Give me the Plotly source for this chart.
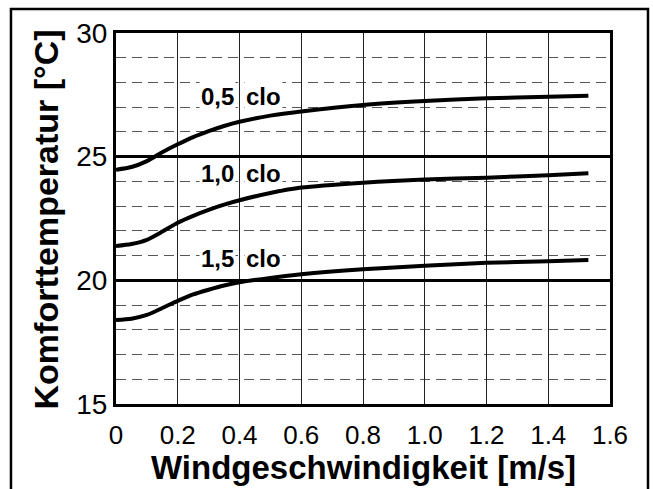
import plotly.graph_objects as go

# Wind speed [m/s] and comfort temperature [°C] for three clothing levels
wind = [0, 0.05, 0.1, 0.15, 0.2, 0.25, 0.3, 0.35, 0.4, 0.5, 0.6, 0.8, 1.0, 1.2, 1.4, 1.53]
t_05clo = [24.47, 24.58, 24.82, 25.18, 25.50, 25.79, 26.03, 26.24, 26.41, 26.66, 26.83, 27.09, 27.25, 27.36, 27.42, 27.46]
t_10clo = [21.39, 21.47, 21.64, 21.97, 22.33, 22.61, 22.85, 23.06, 23.24, 23.53, 23.75, 23.95, 24.08, 24.15, 24.25, 24.33]
t_15clo = [18.40, 18.45, 18.60, 18.88, 19.17, 19.43, 19.62, 19.79, 19.92, 20.10, 20.25, 20.45, 20.59, 20.71, 20.77, 20.82]

series_names = ["0,5 clo", "1,0 clo", "1,5 clo"]
series_values = [t_05clo, t_10clo, t_15clo]

x_tickvals = [0, 0.2, 0.4, 0.6, 0.8, 1.0, 1.2, 1.4, 1.6]
x_ticktext = ["0", "0.2", "0.4", "0.6", "0.8", "1.0", "1.2", "1.4", "1.6"]
y_tickvals = [15, 20, 25, 30]

FONT = "Liberation Sans, Arial, sans-serif"

fig = go.Figure()
for name, vals in zip(series_names, series_values):
    fig.add_trace(go.Scatter(
        x=wind, y=vals, mode="lines", name=name,
        line=dict(color="black", width=4, shape="spline", smoothing=0.7),
        hoverinfo="skip",
    ))

# Curve labels, split around the 0.4 grid line, on a white backing
label_pos = {"0,5 clo": 27.42, "1,0 clo": 24.33, "1,5 clo": 20.9}
for name in series_names:
    num, unit = name.split(" ")
    for txt, anchor, shift in ((num, "right", -4), (unit, "left", 4)):
        fig.add_annotation(
            x=0.4, y=label_pos[name], xref="x", yref="y",
            text=f"<b>{txt}</b>", showarrow=False,
            xanchor=anchor, yanchor="middle", xshift=shift,
            bgcolor="white", borderpad=1,
            font=dict(family=FONT, size=24, color="black"),
        )

# Axis titles
fig.add_annotation(
    x=-0.142, y=0.497, xref="paper", yref="paper",
    text="<b>Komforttemperatur [°C]</b>", textangle=-90, showarrow=False,
    xanchor="center", yanchor="middle",
    font=dict(family=FONT, size=34, color="black"),
)
fig.add_annotation(
    x=0.501, y=-0.17, xref="paper", yref="paper",
    text="<b>Windgeschwindigkeit [m/s]</b>", showarrow=False,
    xanchor="center", yanchor="middle",
    font=dict(family=FONT, size=33, color="black"),
)

# Outer frame around the whole figure
fig.add_shape(
    type="rect", xref="paper", yref="paper",
    x0=-0.2126, x1=1.0769, y0=-0.3, y1=1.0647,
    line=dict(color="black", width=2.5), fillcolor="rgba(0,0,0,0)", layer="above",
)

fig.update_xaxes(
    range=[0, 1.6], tickvals=x_tickvals, ticktext=x_ticktext,
    showgrid=True, gridcolor="#222", gridwidth=1.2,
    showline=True, linecolor="black", linewidth=3, mirror=True,
    ticks="", zeroline=False,
    tickfont=dict(family=FONT, size=26, color="black"),
    ticklabelstandoff=6,
)
fig.update_yaxes(
    range=[15, 30], tickvals=y_tickvals,
    showgrid=True, gridcolor="black", gridwidth=3,
    minor=dict(dtick=1, showgrid=True, gridcolor="#555", gridwidth=1.3, griddash="10px,6px"),
    showline=True, linecolor="black", linewidth=3, mirror=True,
    ticks="", zeroline=False,
    tickfont=dict(family=FONT, size=28, color="black"),
)

fig.update_layout(
    width=653, height=489,
    margin=dict(l=116, r=43, t=33, b=85),
    paper_bgcolor="white", plot_bgcolor="white",
    showlegend=False,
    font=dict(family=FONT, color="black"),
)

fig.write_html("out.html")
